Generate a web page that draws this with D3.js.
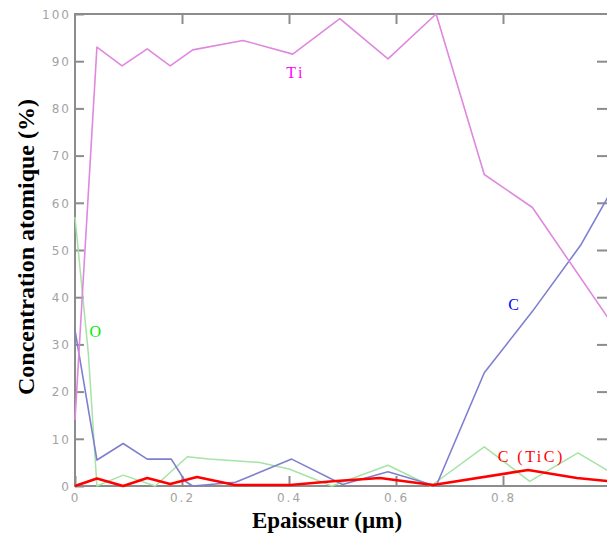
<!DOCTYPE html>
<html>
<head>
<meta charset="utf-8">
<script src="https://cdn.jsdelivr.net/npm/d3@7"></script>
<style>
  html, body { margin: 0; padding: 0; background: #fff; }
  svg { display: block; }
</style>
</head>
<body>
<svg id="chart" width="607" height="536"></svg>
<script>
// ---- data ----
const xTicks = [0, 0.2, 0.4, 0.6, 0.8, 1.0];
const xTickLabels = ["0", "0.2", "0.4", "0.6", "0.8", ""];
const yTicks = [0, 10, 20, 30, 40, 50, 60, 70, 80, 90, 100];

const tiX = [0, 0.041, 0.088, 0.135, 0.178, 0.22, 0.314, 0.407, 0.495, 0.585, 0.675, 0.765, 0.855, 1.0];
const tiY = [14, 93, 89, 92.6, 89, 92.4, 94.4, 91.5, 99, 90.5, 100, 66, 59, 35];

const cX = [0, 0.041, 0.09, 0.135, 0.18, 0.206, 0.22, 0.30, 0.405, 0.50, 0.585, 0.675, 0.765, 0.855, 0.945, 1.0];
const cY = [33, 5.5, 9, 5.7, 5.7, 1, 0, 0.8, 5.7, 0.3, 3, 0, 24, 37, 51, 62];

const oX = [0, 0.025, 0.041, 0.09, 0.15, 0.21, 0.25, 0.345, 0.40, 0.48, 0.585, 0.665, 0.765, 0.85, 0.94, 1.0];
const oY = [57, 28, 0, 2.3, 0, 6.2, 5.7, 5, 3.6, 0, 4.4, 0, 8.3, 1, 7, 3];

const ticX = [0, 0.041, 0.09, 0.135, 0.178, 0.228, 0.299, 0.402, 0.482, 0.57, 0.669, 0.847, 0.938, 1.0];
const ticY = [0, 1.6, 0, 1.7, 0.4, 1.9, 0.2, 0.2, 1, 1.7, 0.2, 3.4, 1.7, 1];

const seriesNames = ["Ti", "C", "O", "C (TiC)"];

// ---- drawing ----
(function () {
const svg = d3.select("#chart");
const x = d3.scaleLinear().domain([0, 1]).range([75, 610]);
const y = d3.scaleLinear().domain([0, 100]).range([486, 14]);

const axisColor = "#8c8c8c";
const tickFont = "'DejaVu Sans', sans-serif";

// frame
svg.append("rect")
  .attr("x", x(0)).attr("y", y(100))
  .attr("width", x(1) - x(0)).attr("height", y(0) - y(100))
  .attr("fill", "none").attr("stroke", axisColor).attr("stroke-width", 2);

const gLeft = svg.append("g").attr("transform", `translate(${x(0)},0)`)
  .call(d3.axisLeft(y).tickValues(yTicks).tickSize(-9).tickPadding(4).tickFormat(d3.format("d")));
const gBottom = svg.append("g").attr("transform", `translate(0,${y(0)})`)
  .call(d3.axisBottom(x).tickValues(xTicks).tickSize(-10).tickPadding(7)
    .tickFormat((d, i) => xTickLabels[i]));
const gTop = svg.append("g").attr("transform", `translate(0,${y(100)})`)
  .call(d3.axisTop(x).tickValues(xTicks.slice(1, 5)).tickSize(-10).tickFormat(""));
const gRight = svg.append("g").attr("transform", `translate(${x(1) - 3},0)`)
  .call(d3.axisRight(y).tickValues(yTicks.slice(1, 10)).tickSize(-10).tickFormat(""));

[gLeft, gBottom, gTop, gRight].forEach(g => {
  g.select(".domain").remove();
  g.selectAll(".tick line").attr("stroke", axisColor).attr("stroke-width", 2);
  g.selectAll(".tick text")
    .attr("fill", "#a3a3a3")
    .style("font-family", tickFont)
    .style("font-size", "12px")
    .style("letter-spacing", "2px");
});
gLeft.selectAll(".tick text").attr("dy", "0.35em");

const mk = (xs, ys) => xs.map((v, i) => [v, ys[i]]);
const line = d3.line().x(d => x(d[0])).y(d => y(d[1]));

const series = [
  { data: mk(oX, oY), color: "#a6e3a6", width: 1.5 },
  { data: mk(cX, cY), color: "#7f7fd0", width: 1.6 },
  { data: mk(tiX, tiY), color: "#df88df", width: 1.6 },
  { data: mk(ticX, ticY), color: "#ff0000", width: 2.6 }
];
svg.append("g").selectAll("path").data(series).join("path")
  .attr("d", d => line(d.data))
  .attr("fill", "none")
  .attr("stroke", d => d.color)
  .attr("stroke-width", d => d.width)
  .attr("stroke-linejoin", "round");

const labels = [
  { text: seriesNames[0], x: 0.395, y: 86.5, color: "#ff00ff" },
  { text: seriesNames[1], x: 0.81, y: 37.3, color: "#0000ff" },
  { text: seriesNames[2], x: 0.027, y: 31.6, color: "#00ee00" },
  { text: seriesNames[3], x: 0.79, y: 5.1, color: "#ff0000" }
];
svg.append("g").selectAll("text").data(labels).join("text")
  .attr("x", d => x(d.x))
  .attr("y", d => y(d.y))
  .attr("fill", d => d.color)
  .style("font-family", "'Liberation Serif', 'Times New Roman', serif")
  .style("font-size", "16px")
  .style("letter-spacing", "2.5px")
  .text(d => d.text);

svg.append("text")
  .attr("x", 327).attr("y", 528)
  .attr("text-anchor", "middle")
  .style("font-family", "'Liberation Serif', 'Times New Roman', serif")
  .style("font-weight", "bold")
  .style("font-size", "23px")
  .text("Epaisseur (µm)");

svg.append("text")
  .attr("transform", "translate(34,247) rotate(-90)")
  .attr("text-anchor", "middle")
  .style("font-family", "'Liberation Serif', 'Times New Roman', serif")
  .style("font-weight", "bold")
  .style("font-size", "24px")
  .text("Concentration atomique (%)");
})();
</script>
</body>
</html>
